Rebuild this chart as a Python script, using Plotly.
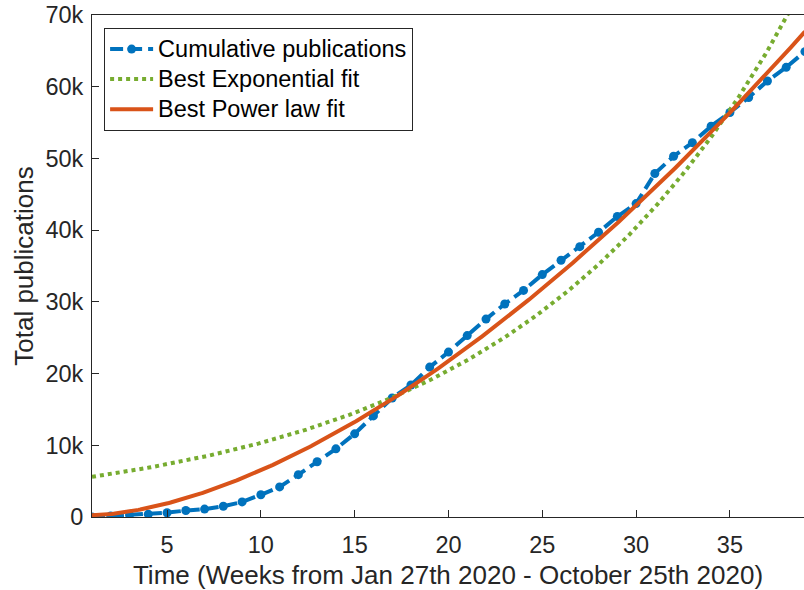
import numpy as np
import plotly.graph_objects as go

# ---- data ----
weeks = list(range(1, 40))
cumulative = [0, 150, 300, 400, 600, 900, 1100, 1500, 2100, 3100,
              4200, 5900, 7700, 9500, 11600, 14100, 16600, 18400, 20900, 23000,
              25300, 27600, 29700, 31600, 33800, 35800, 37700, 39700, 41900, 43700,
              47900, 50300, 52200, 54500, 56400, 58500, 60800, 62700, 64900]

# fitted model parameters
exp_a, exp_b = 5600.0, 0.0681            # y = a * exp(b*(t-1))
pow_a, pow_b, pow_c = 166.8, 1.65, 250.0  # y = a * (t-1)^b + c

x_ticks = [5, 10, 15, 20, 25, 30, 35]
y_ticks = [0, 10000, 20000, 30000, 40000, 50000, 60000, 70000]
y_tick_text = ["0", "10k", "20k", "30k", "40k", "50k", "60k", "70k"]

series_names = ["Cumulative publications", "Best Exponential fit", "Best Power law fit"]
colors = ["#0072BD", "#77AC30", "#D95319"]

t_fine = np.linspace(1, 39, 400)
exp_fit = exp_a * np.exp(exp_b * (t_fine - 1))
pow_fit = pow_a * (t_fine - 1) ** pow_b + pow_c

FONT = "Liberation Sans, Arial, Helvetica, sans-serif"
TXT = "#262626"


def legend_label(s):
    return '<span style="font-size:23.5px">' + s + '</span>'


fig = go.Figure()
fig.add_trace(go.Scatter(
    x=weeks, y=cumulative, mode="lines+markers", name=legend_label(series_names[0]),
    line=dict(color=colors[0], width=4, dash="13px,6px"),
    marker=dict(symbol="circle", size=9, color=colors[0]),
))
fig.add_trace(go.Scatter(
    x=t_fine, y=exp_fit, mode="lines", name=legend_label(series_names[1]),
    line=dict(color=colors[1], width=4, dash="dot"),
))
fig.add_trace(go.Scatter(
    x=t_fine, y=pow_fit, mode="lines", name=legend_label(series_names[2]),
    line=dict(color=colors[2], width=4),
))

axis_common = dict(
    showline=True, linecolor=TXT, linewidth=1, mirror=True,
    ticks="inside", ticklen=7, tickcolor=TXT, tickwidth=1,
    showgrid=False, zeroline=False,
    tickfont=dict(family=FONT, size=23.5, color=TXT),
)

fig.update_layout(
    width=804, height=590,
    margin=dict(l=92, r=0, t=15, b=73, autoexpand=False),
    paper_bgcolor="white", plot_bgcolor="white",
    font=dict(family=FONT, color=TXT),
    xaxis=dict(
        range=[1, 38.95], tickmode="array", tickvals=x_ticks,
        ticklabelstandoff=7,
        title=dict(text="Time (Weeks from Jan 27th 2020 - October 25th 2020)",
                   font=dict(family=FONT, size=26, color=TXT), standoff=8),
        automargin=False, **axis_common,
    ),
    yaxis=dict(
        range=[0, 70000], tickmode="array", tickvals=y_ticks, ticktext=y_tick_text,
        ticklabelstandoff=3,
        title=dict(text="Total publications",
                   font=dict(family=FONT, size=26, color=TXT), standoff=4),
        automargin=False, **axis_common,
    ),
    legend=dict(
        x=0.017, y=0.974, xanchor="left", yanchor="top",
        bgcolor="white", bordercolor=TXT, borderwidth=1,
        font=dict(family=FONT, size=20.8, color="#000000"),
        tracegroupgap=0, itemwidth=43,
    ),
    showlegend=True,
)

fig.write_html("out.html")
